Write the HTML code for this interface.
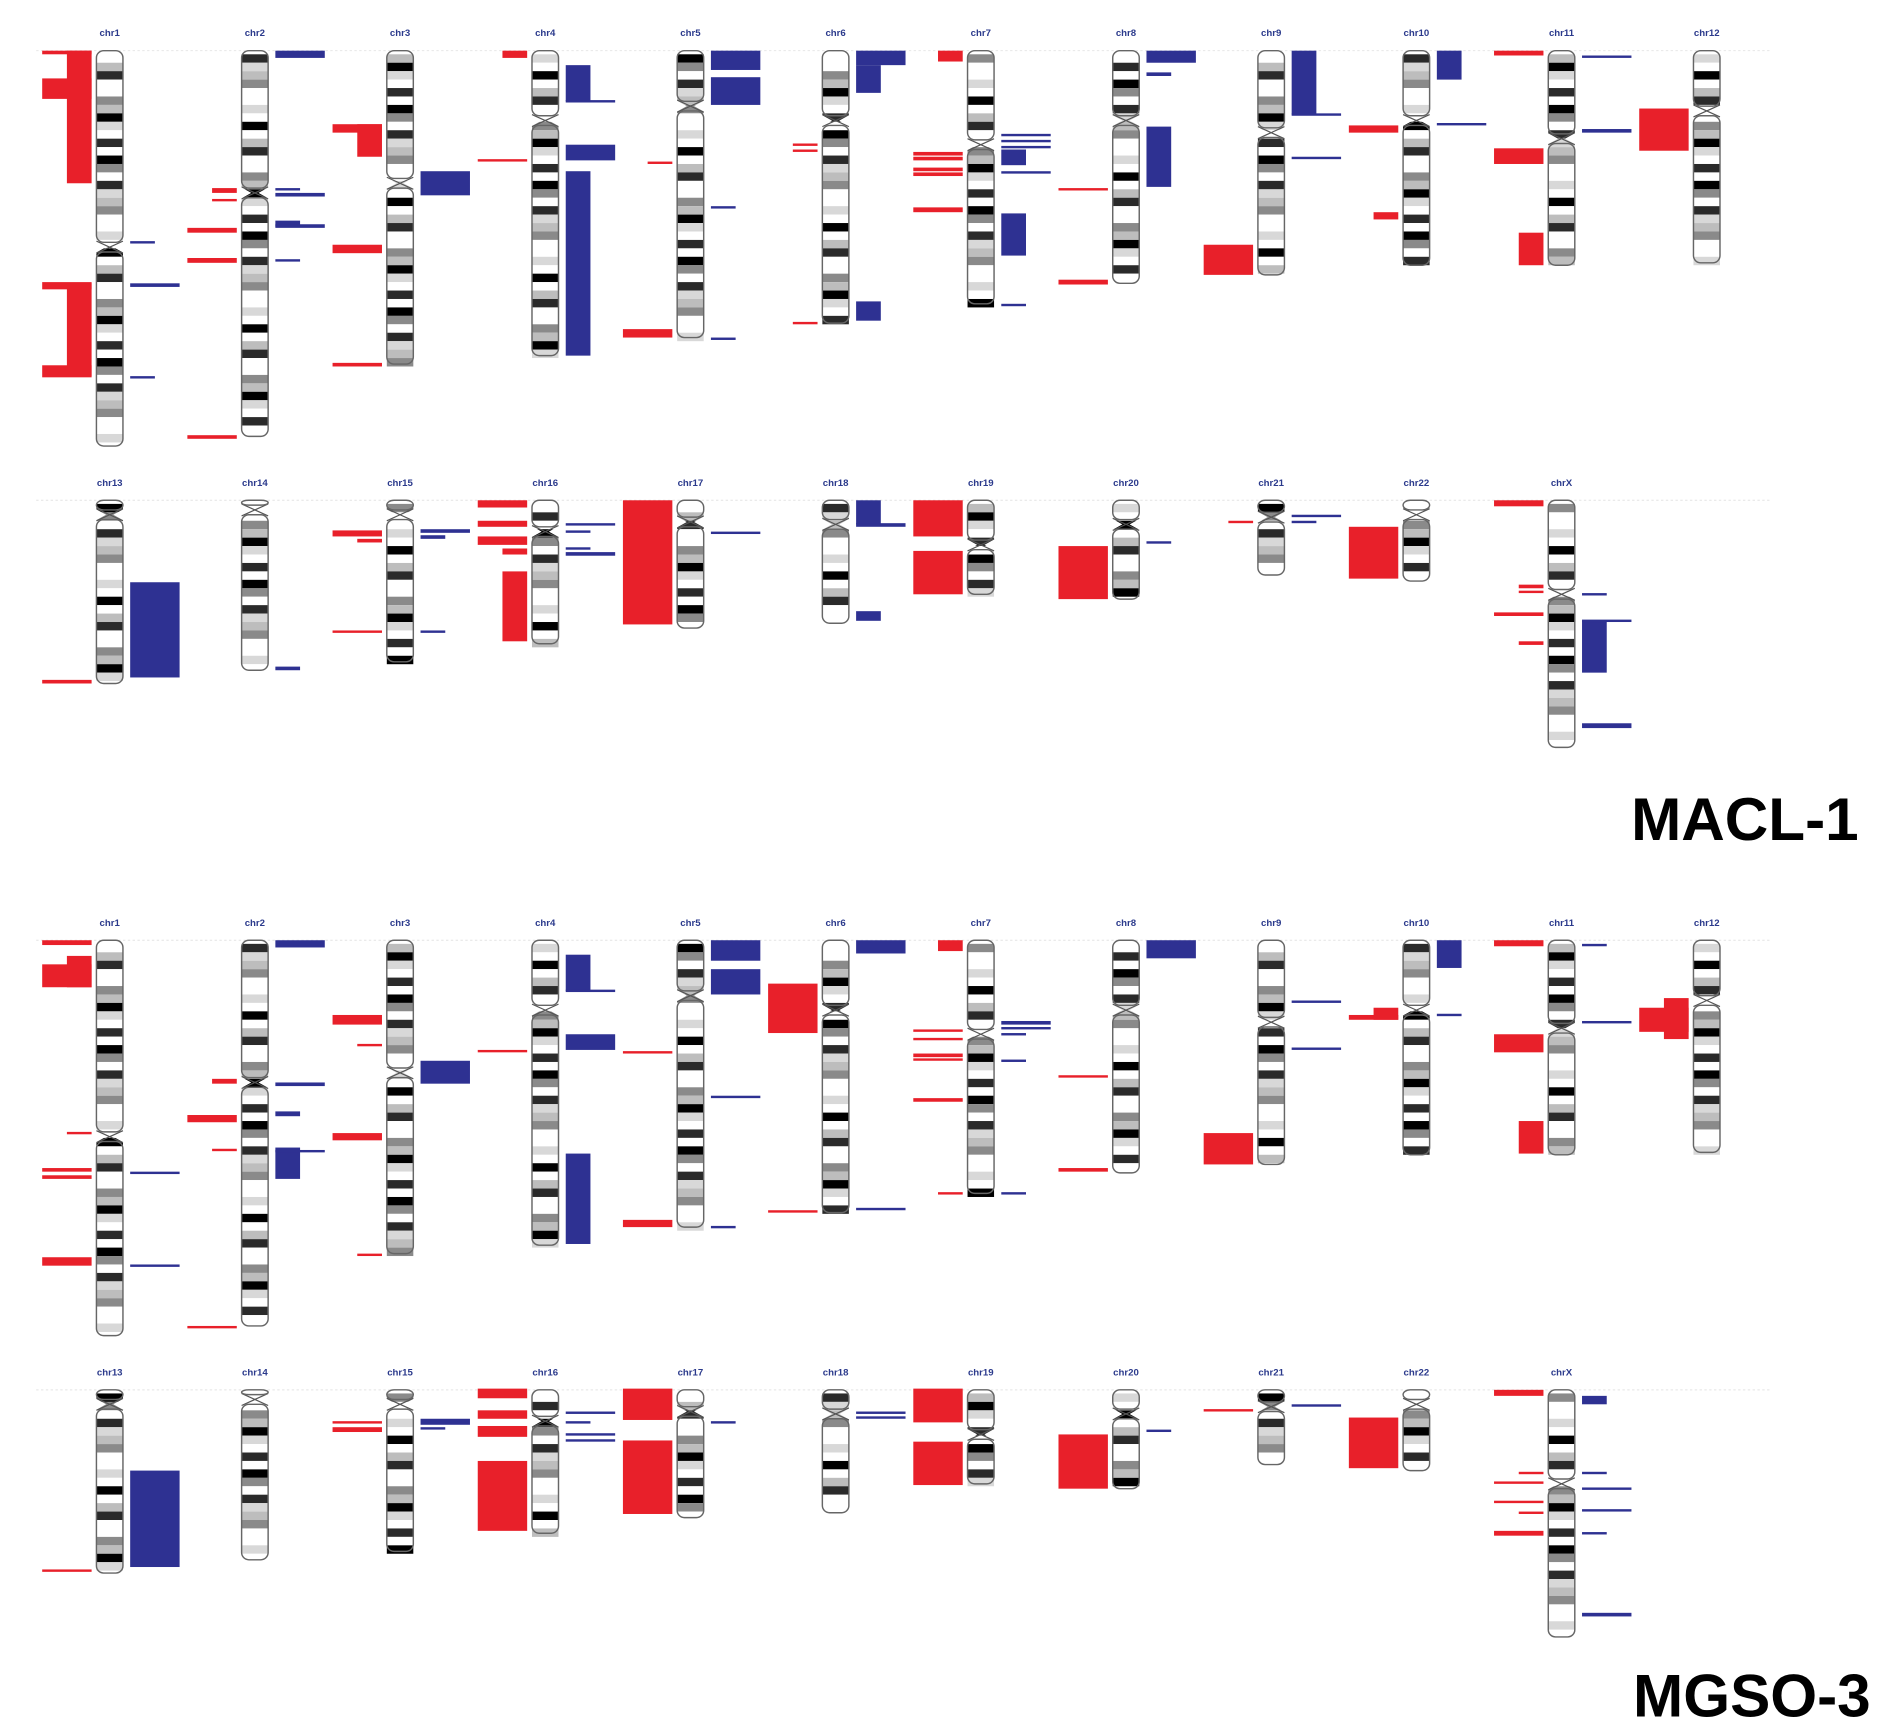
<!DOCTYPE html>
<html><head><meta charset="utf-8"><style>
html,body{margin:0;padding:0;background:#fff;}
svg{display:block;}
</style></head><body>
<svg id="chart" width="1890" height="1731" viewBox="0 0 1568 1436" xmlns="http://www.w3.org/2000/svg">
<rect x="0" y="0" width="1568" height="1436" fill="#fff"/>
<g id="layer"></g>
<text x="1542" y="697" text-anchor="end" font-family="Liberation Sans, sans-serif" font-weight="bold" font-size="50" fill="#000">MACL-1</text>
<text x="1552" y="1424" text-anchor="end" font-family="Liberation Sans, sans-serif" font-weight="bold" font-size="50" fill="#000">MGSO-3</text>
</svg>
<script>
// chromosome names
const chromNames=["chr1","chr2","chr3","chr4","chr5","chr6","chr7","chr8","chr9","chr10","chr11","chr12","chr13","chr14","chr15","chr16","chr17","chr18","chr19","chr20","chr21","chr22","chrX"];
// chromosome lengths (in display units from top of ideogram)
const chromLengths=[328,320,260,253,238,226,210,193,186,178,178,176,152,141,134,119,106,102,78,82,62,67,205];
// centromere positions (from top of ideogram)
const centromeres=[163,118,110,58,46,58,78,58,68,58,73,50,12,8,12,26,18,20,37,20,14,12,78];
// sample base offsets (y of row 1 tops)
const sampleNames=["MACL-1","MGSO-3"];
const sampleOffsets=[0,738];
// aberrations: [chromIndex, startY, endY, level] (level width units)
const macl1Gains=[[0,42,45,2],[0,42,152,1],[0,65,82,2],[0,235,312,1],[0,234,240,2],[0,303,313,2],
[1,156,160,1],[1,165,167,1],[1,189,193,2],[1,214,218,2],[1,361,364,2],
[2,103,110,2],[2,103,130,1],[2,203,210,2],[2,301,304,2],
[3,42,48,1],[3,132,134,2],[4,134,136,1],[4,273,280,2],[5,119,121,1],[5,124,126,1],[5,267,269,1],
[6,42,51,1],[6,126,129,2],[6,130,133,2],[6,139,142,2],[6,143,146,2],[6,172,176,2],
[7,156,158,2],[7,232,236,2],[8,203,228,2],[9,104,110,2],[9,176,182,1],
[10,42,46,2],[10,123,136,2],[10,193,220,1],[11,90,125,2],
[12,564,567,2],[14,440,445,2],[14,447,450,1],[14,523,525,2],
[15,415,421,2],[15,432,437,2],[15,445,452,2],[15,455,460,1],[15,474,532,1],
[16,415,518,2],[18,415,445,2],[18,457,493,2],[19,453,497,2],[20,432,434,1],[21,437,480,2],
[22,415,420,2],[22,485,488,1],[22,490,492,1],[22,508,511,2],[22,532,535,1]];
const macl1Losses=[[0,200,202,1],[0,235,238,2],[0,312,314,1],
[1,42,48,2],[1,156,158,1],[1,160,163,2],[1,183,188,1],[1,186,189,2],[1,215,217,1],
[2,142,162,2],[3,54,84,1],[3,83,85,2],[3,120,133,2],[3,142,295,1],
[4,42,58,2],[4,64,87,2],[4,171,173,1],[4,280,282,1],
[5,42,54,2],[5,54,77,1],[5,250,266,1],
[6,111,113,2],[6,116,118,2],[6,121,123,2],[6,124,137,1],[6,142,144,2],[6,177,212,1],[6,252,254,1],
[7,42,52,2],[7,60,63,1],[7,105,155,1],[8,42,95,1],[8,94,96,2],[8,130,132,2],
[9,42,66,1],[9,102,104,2],[10,46,48,2],[10,107,110,2],
[12,483,562,2],[13,553,556,1],[14,439,442,2],[14,444,447,1],[14,523,525,1],
[15,434,436,2],[15,440,442,1],[15,454,456,1],[15,458,461,2],[16,441,443,2],
[17,415,435,1],[17,434,437,2],[17,507,515,1],[19,449,451,1],[20,427,429,2],[20,432,434,1],
[22,492,494,1],[22,515,558,1],[22,514,516,2],[22,600,604,2]];
const mgso3Gains=[[0,780,784,2],[0,793,819,1],[0,800,819,2],[0,939,941,1],[0,969,972,2],[0,975,978,2],[0,1043,1050,2],
[1,895,899,1],[1,925,931,2],[1,953,955,1],[1,1100,1102,2],
[2,842,850,2],[2,866,868,1],[2,940,946,2],[2,1040,1042,1],
[3,871,873,2],[4,872,874,2],[4,1012,1018,2],[5,816,857,2],[5,1004,1006,2],
[6,780,789,1],[6,854,856,2],[6,861,863,2],[6,874,877,2],[6,878,880,2],[6,911,914,2],[6,989,991,1],
[7,892,894,2],[7,969,972,2],[8,940,966,2],[9,836,846,1],[9,842,846,2],
[10,780,785,2],[10,858,873,2],[10,930,957,1],[11,828,862,1],[11,836,856,2],
[12,1302,1304,2],[14,1179,1181,2],[14,1184,1188,2],
[15,1152,1160,2],[15,1170,1177,2],[15,1183,1192,2],[15,1212,1270,2],
[16,1152,1178,2],[16,1195,1256,2],[18,1152,1180,2],[18,1196,1232,2],[19,1190,1235,2],
[20,1169,1171,2],[21,1176,1218,2],
[22,1153,1158,2],[22,1221,1223,1],[22,1229,1231,2],[22,1245,1247,2],[22,1254,1256,1],[22,1270,1274,2]];
const mgso3Losses=[[0,972,974,2],[0,1049,1051,2],
[1,780,786,2],[1,898,901,2],[1,922,926,1],[1,952,978,1],[1,954,956,2],
[2,880,899,2],[3,792,822,1],[3,821,823,2],[3,858,871,2],[3,957,1032,1],
[4,780,797,2],[4,804,825,2],[4,909,911,2],[4,1017,1019,1],
[5,780,791,2],[5,1002,1004,2],
[6,847,850,2],[6,852,854,2],[6,857,859,1],[6,879,881,1],[6,989,991,1],
[7,780,795,2],[8,830,832,2],[8,869,871,2],[9,780,803,1],[9,841,843,1],
[10,783,785,1],[10,847,849,2],
[12,1220,1300,2],[14,1177,1182,2],[14,1184,1186,1],
[15,1171,1173,2],[15,1179,1181,1],[15,1189,1191,2],[15,1194,1196,2],
[16,1179,1181,1],[17,1171,1173,2],[17,1175,1177,2],[19,1186,1188,1],[20,1165,1167,2],
[22,1158,1165,1],[22,1221,1223,1],[22,1234,1236,2],[22,1252,1254,2],[22,1271,1273,1],[22,1338,1341,2]];

const NS="http://www.w3.org/2000/svg";
const layer=document.getElementById('layer');
function mk(tag,attrs){const e=document.createElementNS(NS,tag);for(const k in attrs)e.setAttribute(k,attrs[k]);return e;}
// axis functions
function colX(i){return 91+(i<12?i:i-12)*120.45;}
function rowTop(i,s){return (i<12?42:415)+sampleOffsets[s];}
const shades=["#ffffff","#d8d8d8","#8a8a8a","#2a2a2a","#000000","#ffffff","#bdbdbd","#ffffff"];

sampleNames.forEach((sn,s)=>{
  const off=sampleOffsets[s];
  [42,415].forEach((ty,r)=>{
    const gl=mk('line',{x1:30,x2:1470,y1:ty+off,y2:ty+off,stroke:'#e4e4e4','stroke-width':0.8,'stroke-dasharray':'2,2'});
    
    
    layer.appendChild(gl);
  });
  chromNames.forEach((cn,i)=>{
    const cx=colX(i),top=rowTop(i,s),len=chromLengths[i],cen=centromeres[i];
    const g=mk('g',{});
    
    
    const lab=mk('text',{x:cx,y:top-12,'text-anchor':'middle','font-family':'Liberation Sans, sans-serif','font-size':8,'font-weight':'bold',fill:'#2b3a8c'});
    lab.textContent=cn;
    
    
    layer.appendChild(lab);
    const w=22,x0=cx-w/2;
    // bands
    for(let y=top+3,k=0;y<top+len-3;y+=7,k++){
      const sh=shades[(k*5+i*3+((k*k)%3))%shades.length];
      const b=mk('rect',{x:x0,y:y,width:w,height:7,fill:sh});
      g.appendChild(b);
    }
    // centromere pinch
    const cy=top+cen;
    g.appendChild(mk('path',{d:`M${x0-1} ${cy-5} L${cx-3} ${cy} L${x0-1} ${cy+5}Z M${x0+w+1} ${cy-5} L${cx+3} ${cy} L${x0+w+1} ${cy+5}Z`,fill:'#fff'}));
    g.appendChild(mk('path',{d:`M${x0} ${cy-5} L${cx} ${cy} L${x0+w} ${cy-5} M${x0} ${cy+5} L${cx} ${cy} L${x0+w} ${cy+5}`,stroke:'#555','stroke-width':1,fill:'none'}));
    g.appendChild(mk('rect',{x:x0,y:top,width:w,height:cen-4,rx:6,fill:'none',stroke:'#666','stroke-width':1.2}));
    g.appendChild(mk('rect',{x:x0,y:cy+4,width:w,height:len-cen-4,rx:6,fill:'none',stroke:'#666','stroke-width':1.2}));
    layer.appendChild(g);
  });
});

function drawAb(list,isGain,name){
  list.forEach(a=>{
    const [ci,y0,y1,lvl]=a;
    const cx=colX(ci);
    const wdt=lvl*20.5;
    const x=isGain? cx-15-wdt : cx+17;
    const h=Math.max(2,y1-y0);
    const r=mk('rect',{x:x,y:y0,width:wdt,height:h,fill:isGain?'#e8202a':'#2e3192'});
    
    
    layer.appendChild(r);
  });
}
drawAb(macl1Gains,true,'macl1-gain');
drawAb(macl1Losses,false,'macl1-loss');
drawAb(mgso3Gains,true,'mgso3-gain');
drawAb(mgso3Losses,false,'mgso3-loss');
</script>
</body></html>
